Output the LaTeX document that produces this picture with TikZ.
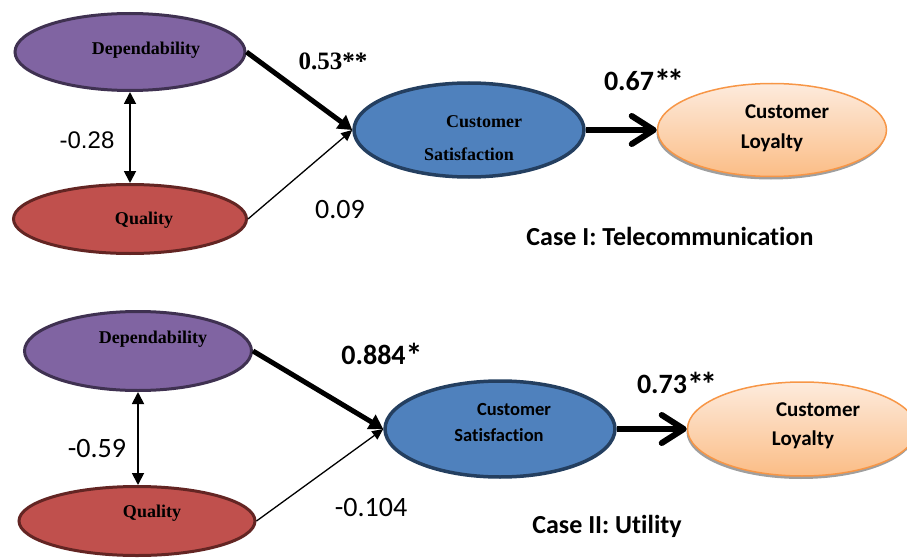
\documentclass[tikz,border=0pt]{standalone}
\usepackage{fontspec}
\setmainfont{Carlito}[Ligatures={NoCommon}]
\newfontfamily\timesf{Liberation Serif}
\newfontfamily\arialf{Liberation Sans}
\usetikzlibrary{arrows.meta,shapes.geometric,shadows}
\newcommand\myfs[1]{\fontsize{#1}{#1}\selectfont}
\newcommand\onestar{{\myfs{34}\raisebox{-3pt}{*}}}
\definecolor{depfill}{HTML}{8064A2}
\definecolor{depline}{HTML}{3F3151}
\definecolor{qfill}{HTML}{C0504D}
\definecolor{qline}{HTML}{632523}
\definecolor{csfill}{HTML}{4F81BD}
\definecolor{csline}{HTML}{243F60}
\definecolor{cltop}{HTML}{FDEBDD}
\definecolor{clbot}{HTML}{FBBD86}
\definecolor{clline}{HTML}{F79646}
\begin{document}
\begin{tikzpicture}[x=1pt,y=-1pt,
  oval/.style={ellipse,inner sep=0pt},
  depnode/.style={oval,fill=depfill,draw=depline,line width=3pt},
  qnode/.style={oval,fill=qfill,draw=qline,line width=3pt},
  csnode/.style={oval,fill=csfill,draw=csline,line width=3.5pt},
  clnode/.style={oval,top color=cltop,bottom color=clbot,draw=clline,line width=1.5pt,
    drop shadow={shadow xshift=-1pt,shadow yshift=-3pt,fill=gray!75,opacity=1}},
  tlab/.style={anchor=base,inner sep=0pt,font=\timesf\bfseries\myfs{18}},
  clab/.style={anchor=base,inner sep=0pt,font=\bfseries\myfs{21}},
  cslab/.style={anchor=base,inner sep=0pt,font=\bfseries\myfs{18.5}},
  coef/.style={anchor=base,inner sep=0pt,font=\myfs{28}},
  bcoef/.style={anchor=base,inner sep=0pt,font=\bfseries\myfs{28}},
  caselab/.style={anchor=base,inner sep=0pt,font=\bfseries\myfs{26}},
  corr/.style={line width=1.8pt,{Triangle[length=12pt,width=12pt]}-{Triangle[length=12pt,width=12pt]}},
  strongarr/.style={line width=5pt,-{Triangle[length=14pt,width=16pt]}},
  weakarr/.style={line width=1.3pt,-{Triangle[length=11pt,width=10pt]}},
  outarr/.style={line width=6pt,-{Straight Barb[length=22pt,width=28pt,round]}}
]
\useasboundingbox (0,0) rectangle (907,559);

% ---------- Case I ----------
\node[depnode,minimum width=230pt,minimum height=77pt] (dep1) at (130,52) {};
\node[qnode,minimum width=233pt,minimum height=69pt] (qual1) at (130,219) {};
\node[csnode,minimum width=230pt,minimum height=94pt] (cs1) at (469,130) {};
\node[clnode,minimum width=229pt,minimum height=93pt] (cl1) at (772,130) {};

\node[tlab] (dep1t) at (146,55) {Dependability};
\node[tlab] (qual1t) at (144,224) {Quality};
\node[tlab] (cs1ta) at (484,128) {Customer};
\node[tlab] (cs1tb) at (469,160) {Satisfaction};
\node[clab] (cl1ta) at (787,118) {Customer};
\node[clab] (cl1tb) at (772,148) {Loyalty};

\draw[corr] (dep1.south) -- (qual1.north);
\draw[strongarr] (dep1.east) -- (cs1.west);
\draw[weakarr] (qual1.east) -- (cs1.west);
\draw[outarr] (cs1.east) -- (cl1.west);

\node[anchor=base,inner sep=0pt,font=\timesf\bfseries\myfs{25}] (c1a) at (333,70) {0.53**};
\node[anchor=base,inner sep=0pt,font=\arialf\myfs{24}] (c1b) at (87,148) {-0.28};
\node[coef] (c1c) at (340,218) {0.09};
\node[bcoef] (c1d) at (644,91) {0.67\onestar\kern-4pt\onestar};
\node[caselab] (case1) at (670,245) {Case I: Telecommunication};

% ---------- Case II ----------
\node[depnode,minimum width=227pt,minimum height=79pt] (dep2) at (138,351) {};
\node[qnode,minimum width=236pt,minimum height=69pt] (qual2) at (137,521) {};
\node[csnode,minimum width=230pt,minimum height=96pt] (cs2) at (500,429) {};
\node[clnode,minimum width=229pt,minimum height=94pt] (cl2) at (802,429) {};

\node[tlab] (dep2t) at (153,343) {Dependability};
\node[tlab] (qual2t) at (152,517) {Quality};
\node[cslab] (cs2ta) at (514,415) {Customer};
\node[cslab] (cs2tb) at (499,441) {Satisfaction};
\node[clab] (cl2ta) at (818,416) {Customer};
\node[clab] (cl2tb) at (803,445) {Loyalty};

\draw[corr] (dep2.south) -- (dep2.south |- qual2.north);
\draw[strongarr] (dep2.east) -- (cs2.west);
\draw[weakarr] (qual2.east) -- (cs2.west);
\draw[outarr] (cs2.east) -- (cl2.west);

\node[coef] (c2b) at (97,457) {-0.59};
\node[bcoef] (c2a) at (382,364) {0.884\onestar};
\node[coef] (c2c) at (371,516) {-0.104};
\node[bcoef] (c2d) at (677,393) {0.73\onestar\kern-4pt\onestar};
\node[caselab] (case2) at (607,533) {Case II: Utility};
\end{tikzpicture}
\end{document}
